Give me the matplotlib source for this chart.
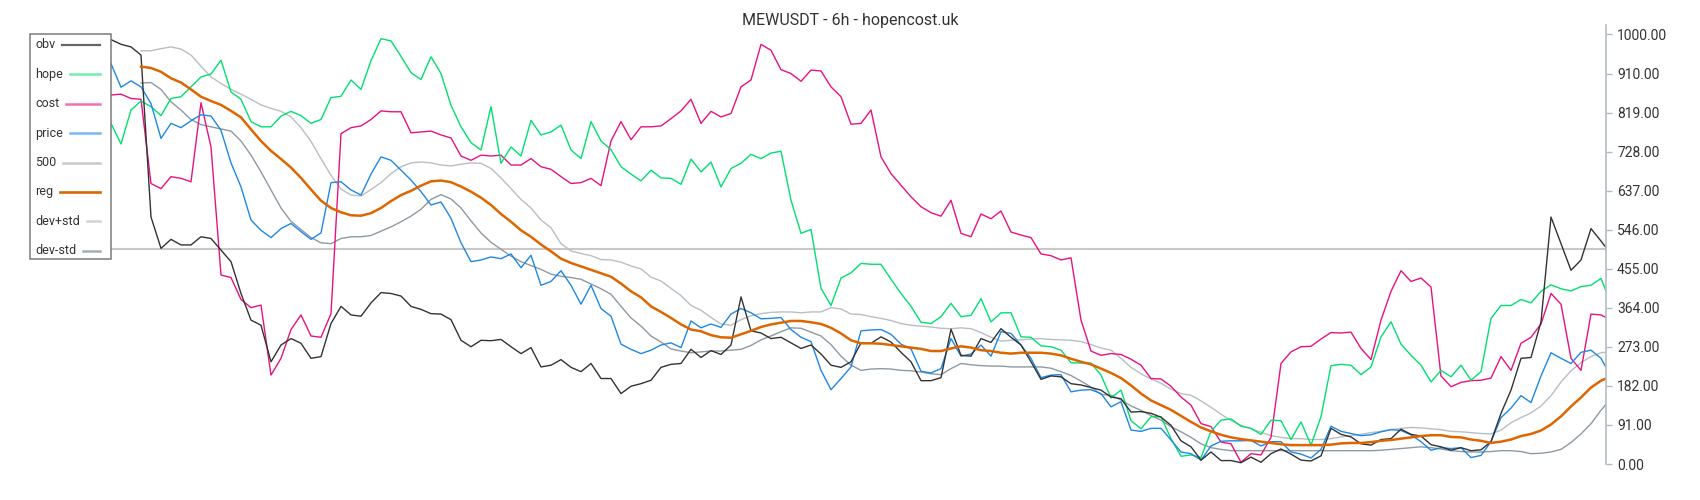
import numpy as np
import matplotlib
matplotlib.use("Agg")
import matplotlib.pyplot as plt
from matplotlib.lines import Line2D
from matplotlib.patches import Rectangle

plt.rcParams['font.family'] = ['Roboto', 'DejaVu Sans']

# bar index (every second 6h candle, plus the last one)
bars = np.r_[np.arange(0, 300, 2), 299]
band_bars = bars[3:]   # reg / dev bands start a few bars later

obv = [988, 977, 971, 952, 575, 502, 523, 510, 510, 529, 525, 498, 471, 397, 335, 323, 238, 277, 292, 281, 246, 250, 327, 367, 347,
       344, 375, 399, 397, 391, 367, 360, 350, 349, 336, 288, 273, 288, 287, 290, 273, 257, 271, 226, 230, 243, 225, 215, 234, 199,
       199, 164, 181, 187, 195, 225, 232, 234, 267, 248, 264, 255, 277, 389, 310, 305, 292, 295, 282, 269, 277, 256, 230, 225, 238,
       282, 281, 296, 284, 260, 238, 194, 194, 201, 314, 253, 251, 292, 283, 315, 295, 277, 238, 197, 205, 203, 187, 184, 178, 172,
       156, 152, 121, 122, 118, 109, 90, 54, 40, 9, 28, 8, 8, 3, 16, 4, 24, 35, 23, 9, 7, 19, 83, 69, 63,
       47, 44, 57, 59, 81, 69, 65, 45, 40, 32, 38, 31, 33, 52, 118, 172, 246, 248, 331, 575, 513, 451, 475, 548, 519, 504]

hope = [793, 745, 824, 845, 832, 811, 851, 855, 878, 901, 908, 940, 866, 849, 797, 785, 785, 810, 821, 811, 793, 802, 853, 856, 894,
        872, 939, 990, 985, 949, 911, 895, 948, 909, 835, 785, 748, 731, 832, 700, 738, 717, 800, 766, 773, 789, 731, 711, 797, 752,
        732, 692, 675, 659, 684, 666, 665, 651, 710, 680, 703, 645, 688, 700, 721, 711, 724, 728, 614, 537, 546, 409, 369, 433, 445,
        467, 465, 465, 430, 397, 367, 330, 327, 343, 374, 343, 346, 385, 331, 352, 352, 296, 295, 275, 273, 265, 236, 235, 235, 207,
        154, 172, 101, 82, 110, 110, 59, 18, 21, 15, 76, 102, 105, 88, 83, 69, 102, 101, 57, 98, 44, 110, 229, 232, 230,
        208, 226, 296, 331, 279, 253, 230, 191, 218, 203, 230, 195, 215, 339, 369, 369, 383, 375, 402, 417, 408, 403, 413, 416, 432, 403]

cost = [859, 861, 851, 849, 653, 641, 669, 665, 657, 841, 738, 440, 434, 383, 364, 370, 207, 246, 313, 347, 298, 295, 350, 769, 783,
        787, 802, 822, 820, 820, 771, 773, 775, 766, 759, 717, 707, 719, 717, 719, 696, 696, 711, 692, 686, 669, 653, 655, 665, 648,
        752, 797, 755, 785, 785, 787, 804, 822, 849, 793, 821, 808, 816, 878, 894, 977, 963, 918, 909, 891, 917, 915, 878, 855, 791,
        793, 824, 715, 676, 649, 622, 599, 585, 577, 614, 537, 529, 582, 571, 589, 540, 533, 527, 489, 485, 475, 480, 335, 263, 253,
        257, 255, 244, 230, 199, 198, 181, 156, 137, 94, 87, 51, 47, 4, 24, 21, 62, 234, 261, 273, 274, 291, 306, 305, 307,
        269, 243, 335, 402, 450, 425, 433, 412, 205, 180, 190, 194, 195, 200, 250, 218, 281, 295, 326, 397, 372, 246, 218, 349, 347, 341]

price = [932, 877, 892, 878, 839, 758, 793, 783, 799, 813, 810, 777, 701, 645, 568, 544, 527, 548, 560, 541, 523, 538, 655, 657, 638,
         626, 675, 715, 707, 684, 661, 634, 603, 610, 572, 515, 471, 475, 482, 478, 489, 457, 486, 416, 425, 450, 416, 372, 416, 362,
         344, 279, 267, 257, 265, 277, 282, 271, 333, 317, 326, 318, 349, 362, 352, 338, 339, 341, 313, 295, 285, 218, 173, 199, 226,
         310, 312, 313, 302, 279, 268, 216, 212, 222, 292, 251, 256, 277, 251, 308, 304, 277, 246, 201, 207, 208, 168, 172, 173, 164,
         133, 145, 79, 76, 83, 83, 56, 28, 24, 9, 42, 53, 54, 54, 55, 42, 52, 52, 28, 23, 14, 34, 88, 76, 71,
         66, 68, 75, 80, 78, 68, 52, 32, 38, 36, 38, 15, 20, 52, 108, 130, 159, 143, 205, 259, 246, 234, 260, 265, 246, 225]

reg = [925, 922, 913, 898, 888, 872, 855, 845, 836, 822, 807, 779, 752, 729, 710, 690, 666, 639, 613, 596, 586, 579,
       578, 584, 596, 612, 626, 636, 648, 658, 660, 656, 646, 634, 620, 603, 582, 564, 544, 529, 511, 495, 478, 468, 460, 452, 444,
       436, 420, 402, 388, 367, 354, 340, 325, 313, 309, 300, 295, 294, 302, 310, 319, 325, 329, 333, 333, 330, 326, 317, 304, 288,
       281, 281, 280, 277, 274, 271, 268, 263, 263, 269, 274, 271, 265, 263, 259, 257, 259, 259, 259, 257, 253, 245, 238, 232, 222,
       212, 200, 183, 164, 148, 137, 126, 112, 98, 85, 76, 68, 62, 58, 55, 52, 49, 46, 44, 44, 44, 44, 45, 48, 49,
       49, 51, 54, 56, 59, 62, 65, 67, 67, 63, 62, 57, 54, 49, 52, 57, 65, 70, 78, 92, 111, 134, 155, 178, 194, 199]

dev_plus = [962, 962, 967, 971, 966, 952, 926, 901, 886, 872, 861, 849, 836, 828, 821, 808, 783, 751, 711, 672, 640, 626,
            624, 639, 655, 676, 692, 701, 703, 701, 696, 694, 698, 701, 700, 688, 666, 641, 616, 596, 568, 550, 513, 496, 490, 485, 476,
            475, 470, 461, 454, 435, 426, 409, 392, 369, 358, 341, 326, 323, 336, 345, 350, 353, 354, 354, 352, 354, 354, 364, 361, 349,
            348, 343, 339, 334, 327, 323, 321, 319, 316, 315, 317, 315, 306, 295, 286, 288, 289, 291, 292, 290, 289, 288, 285, 278, 270,
            265, 246, 225, 210, 198, 188, 174, 164, 160, 147, 132, 116, 101, 90, 82, 74, 66, 62, 59, 59, 57, 57, 59, 63, 66,
            69, 73, 76, 80, 83, 85, 84, 82, 80, 76, 75, 73, 71, 70, 79, 96, 108, 119, 135, 159, 191, 217, 236, 250, 259, 260]

dev_minus = [887, 888, 872, 843, 824, 802, 790, 785, 780, 775, 752, 719, 680, 638, 596, 565, 546, 527, 515, 513, 525, 529,
             529, 532, 542, 552, 564, 577, 593, 616, 627, 617, 596, 566, 538, 516, 500, 484, 471, 462, 453, 442, 437, 434, 430, 419, 408,
             395, 367, 340, 321, 298, 284, 268, 263, 259, 261, 263, 263, 265, 267, 276, 289, 298, 308, 317, 316, 307, 298, 278, 251, 230,
             218, 221, 222, 221, 218, 217, 214, 210, 208, 222, 234, 231, 229, 228, 228, 226, 226, 226, 226, 223, 215, 206, 193, 179, 162,
             160, 149, 135, 125, 113, 102, 87, 75, 62, 47, 38, 34, 31, 31, 31, 31, 31, 31, 31, 31, 31, 31, 31, 31, 31,
             31, 31, 32, 34, 36, 38, 40, 38, 35, 31, 29, 28, 28, 29, 31, 31, 29, 24, 25, 28, 34, 50, 70, 94, 125, 139]

level = 500

tick_vals = np.linspace(0, 1000, 12)
tick_labels = ["0.00", "91.00", "182.00", "273.00", "364.00", "455.00",
               "546.00", "637.00", "728.00", "819.00", "910.00", "1000.00"]

W, H = 1700, 500
fig = plt.figure(figsize=(W / 100, H / 100), dpi=100)
ax = fig.add_axes([111 / W, 36 / H, (1606 - 111) / W, 439 / H])

# lines
ax.plot([bars[0], bars[-1]], [level, level], color="#c8c8c8", lw=1.5)
ax.plot(band_bars, dev_plus, color="#b7bfc5", lw=1.0)
ax.plot(band_bars, dev_minus, color="#8e99a2", lw=1.0)
ax.plot(bars, cost, color="#e8127f", lw=1.0)
ax.plot(bars, hope, color="#00e070", lw=1.0)
ax.plot(bars, price, color="#1e88e5", lw=1.0)
ax.plot(bars, obv, color="#333333", lw=1.0)
ax.plot(band_bars, reg, color="#dd6600", lw=1.8)

ax.set_xlim(0, 299)
ax.set_ylim(0, 1022)
ax.set_xticks([])
ax.set_yticks(tick_vals)
ax.set_yticklabels(tick_labels)
ax.yaxis.tick_right()
for s in ["left", "top", "bottom"]:
    ax.spines[s].set_visible(False)
ax.spines["right"].set_color("#b0bcc4")
ax.spines["right"].set_linewidth(1.2)
ax.tick_params(axis="y", colors="#b0bcc4", labelcolor="#333333",
               length=4, width=1, labelsize=10, pad=4)

fig.text(0.5, 1 - 20.5 / H, "MEWUSDT - 6h - hopencost.uk",
         ha="center", va="center", fontsize=11.5, color="#333333")

# legend drawn by hand: label on the left, line sample right-aligned
fig.patches.append(Rectangle((30 / W, 1 - 259 / H), 81 / W, 225 / H,
                             transform=fig.transFigure, facecolor="white",
                             edgecolor="#7a7a7a", lw=1.1))
leg = [("obv", "#333333", 0.75, 1.6),
       ("hope", "#00e070", 0.55, 1.8),
       ("cost", "#e8127f", 0.6, 1.8),
       ("price", "#1e88e5", 0.6, 1.8),
       ("500", "#c8c8c8", 1.0, 1.8),
       ("reg", "#dd6600", 1.0, 1.9),
       ("dev+std", "#cfd5d9", 1.0, 1.8),
       ("dev-std", "#a3adb5", 1.0, 1.8)]
fig.canvas.draw()
renderer = fig.canvas.get_renderer()
for i, (name, col, a, lw) in enumerate(leg):
    yy = 45 + i * 29.4
    txt = fig.text(35 / W, 1 - yy / H, name, ha="left", va="center",
                   fontsize=9, color="#333333")
    bb = txt.get_window_extent(renderer)
    x0 = bb.x1 + 7
    fig.lines.append(Line2D([x0 / W, 100 / W], [1 - yy / H, 1 - yy / H],
                            transform=fig.transFigure, color=col, alpha=a, lw=lw))

fig.savefig("out.png", dpi=100)
